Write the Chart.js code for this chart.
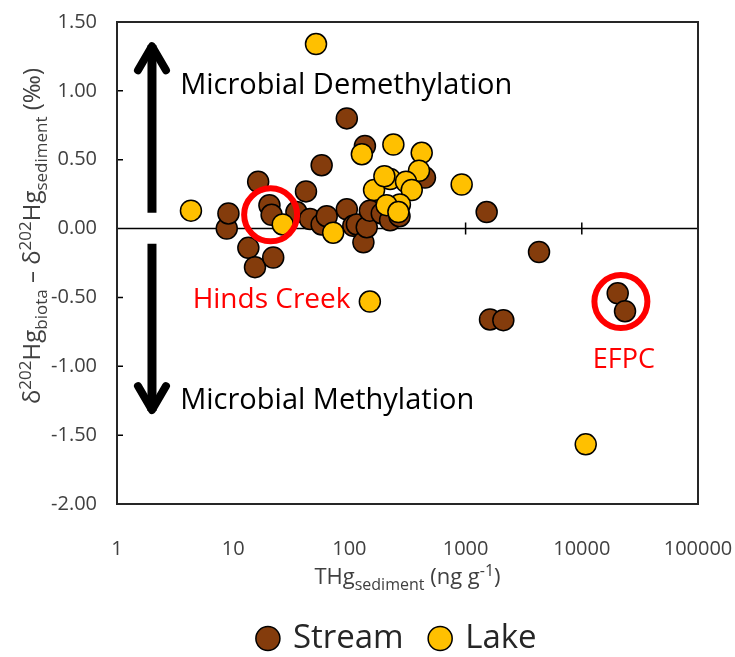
<!DOCTYPE html>
<html>
<head>
<meta charset="utf-8">
<script src="https://cdn.jsdelivr.net/npm/chart.js@4.4.1/dist/chart.umd.min.js"></script>
<style>
  html, body { margin: 0; padding: 0; background: #ffffff; }
  canvas { display: block; }
</style>
</head>
<body>
<canvas id="chart" width="735" height="657"></canvas>
<script>
// Sediment total Hg (ng/g) and biota–sediment δ202Hg offset (‰)
const streamTHg   = [8.8, 9.1, 13.5, 15.4, 16.4, 20.5, 21.4, 22.1, 35, 42.3, 45.8, 57.7, 57.7, 63.8, 95, 95, 108, 116, 132, 136, 141, 150, 190, 224, 270, 447, 1518, 4284, 1622, 2112, 20370, 23550];
const streamDelta = [0.00, 0.11, -0.14, -0.28, 0.34, 0.17, 0.10, -0.21, 0.12, 0.27, 0.07, 0.46, 0.03, 0.09, 0.80, 0.14, 0.02, 0.03, -0.10, 0.60, 0.01, 0.13, 0.11, 0.06, 0.09, 0.37, 0.12, -0.17, -0.66, -0.665, -0.47, -0.60];

const lakeTHg   = [4.33, 51.6, 26.7, 72.5, 128, 239, 419, 397, 224, 307, 163, 200, 344, 272, 209, 264, 925, 150, 10810];
const lakeDelta = [0.13, 1.34, 0.03, -0.03, 0.54, 0.61, 0.55, 0.42, 0.36, 0.34, 0.28, 0.38, 0.28, 0.175, 0.17, 0.12, 0.32, -0.53, -1.567];

const xDecades = [1, 10, 100, 1000, 10000, 100000];
const yTicks = [-2, -1.5, -1, -0.5, 0, 0.5, 1, 1.5];

const FONT = "'Open Sans', 'Noto Sans', sans-serif";
const STREAM_COLOR = '#843C0C';
const LAKE_COLOR = '#FFC000';
const TEXT_GRAY = '#404040';

// Draws a run of text pieces with sub/superscripts
function richText(ctx, pieces, size, x, y, align) {
  const small = Math.round(size * 0.72);
  const fontFor = k => (k === 'n' ? size : small) + 'px ' + FONT;
  let total = 0;
  pieces.forEach(p => { ctx.font = fontFor(p[1]); total += ctx.measureText(p[0]).width; });
  let cx = align === 'center' ? x - total / 2 : x;
  ctx.textAlign = 'left';
  ctx.textBaseline = 'alphabetic';
  pieces.forEach(p => {
    ctx.font = fontFor(p[1]);
    let dy = 0;
    if (p[1] === 'sub') dy = size * 0.28;
    if (p[1] === 'sup') dy = -size * 0.38;
    ctx.fillText(p[0], cx, y + dy);
    cx += ctx.measureText(p[0]).width;
  });
  return total;
}

const yTitle = [['δ', 'n'], ['202', 'sup'], ['Hg', 'n'], ['biota', 'sub'], [' – δ', 'n'], ['202', 'sup'], ['Hg', 'n'], ['sediment', 'sub'], [' (‰)', 'n']];
const xTitle = [['THg', 'n'], ['sediment', 'sub'], [' (ng g', 'n'], ['-1', 'sup'], [')', 'n']];

// Frame, zero line and inward tick marks (under the markers)
const framePlugin = {
  id: 'frame',
  afterLayout(chart) {
    // centre the legend row under the plot frame rather than the whole canvas
    const lg = chart.legend;
    if (lg) { lg.left += 98; }
  },
  beforeDatasetsDraw(chart) {
    const { ctx, chartArea: a, scales: { x, y } } = chart;
    ctx.save();
    const y0 = y.getPixelForValue(0);
    ctx.strokeStyle = '#000000';
    ctx.lineWidth = 1.5;
    ctx.beginPath();
    ctx.moveTo(a.left, y0); ctx.lineTo(a.right, y0);
    xDecades.forEach(v => {
      const px = x.getPixelForValue(v);
      ctx.moveTo(px, y0 - 6); ctx.lineTo(px, y0 + 6);
    });
    yTicks.forEach(v => {
      if (v === 0) return;
      const py = y.getPixelForValue(v);
      ctx.moveTo(a.left, py); ctx.lineTo(a.left + 6, py);
    });
    ctx.stroke();
    ctx.strokeStyle = '#262626';
    ctx.lineWidth = 2;
    ctx.strokeRect(a.left, a.top, a.right - a.left, a.bottom - a.top);
    ctx.restore();
  }
};

function arrow(ctx, x, yFrom, yTip) {
  const dir = yTip < yFrom ? 1 : -1;
  ctx.beginPath();
  ctx.lineWidth = 9;
  ctx.lineCap = 'butt';
  ctx.moveTo(x, yFrom); ctx.lineTo(x, yTip + dir * 2);
  ctx.stroke();
  ctx.beginPath();
  ctx.lineWidth = 8;
  ctx.lineCap = 'round';
  ctx.lineJoin = 'round';
  ctx.moveTo(x - 14, yTip + dir * 27);
  ctx.lineTo(x, yTip + dir * 3);
  ctx.lineTo(x + 14, yTip + dir * 27);
  ctx.stroke();
}

// Arrows, process labels, site rings and axis titles
const notesPlugin = {
  id: 'notes',
  afterDatasetsDraw(chart) {
    const { ctx, chartArea: a, scales: { x, y } } = chart;
    ctx.save();
    ctx.strokeStyle = '#000000';
    const ax = x.getPixelForValue(2);
    arrow(ctx, ax, y.getPixelForValue(0.115), y.getPixelForValue(1.346));
    arrow(ctx, ax, y.getPixelForValue(-0.11), y.getPixelForValue(-1.34));

    ctx.fillStyle = '#000000';
    ctx.font = '29px ' + FONT;
    ctx.textAlign = 'left';
    ctx.textBaseline = 'middle';
    ctx.fillText('Microbial Demethylation', x.getPixelForValue(3.5), y.getPixelForValue(1.04));
    ctx.fillText('Microbial Methylation', x.getPixelForValue(3.5), y.getPixelForValue(-1.25));

    ctx.strokeStyle = '#FF0000';
    ctx.lineWidth = 6;
    [[21, 0.10], [21700, -0.53]].forEach(([vx, vy]) => {
      ctx.beginPath();
      ctx.arc(x.getPixelForValue(vx), y.getPixelForValue(vy), 26.5, 0, Math.PI * 2);
      ctx.stroke();
    });
    ctx.fillStyle = '#FF0000';
    ctx.font = '28px ' + FONT;
    ctx.textAlign = 'center';
    ctx.fillText('Hinds Creek', x.getPixelForValue(21.4), y.getPixelForValue(-0.52));
    ctx.font = '27px ' + FONT;
    ctx.fillText('EFPC', x.getPixelForValue(23000), y.getPixelForValue(-0.96));

    ctx.fillStyle = TEXT_GRAY;
    richText(ctx, xTitle, 22, (a.left + a.right) / 2, 584, 'center');
    ctx.translate(32, 236);
    ctx.rotate(-Math.PI / 2);
    richText(ctx, yTitle, 24, 0, 8, 'center');
    ctx.restore();
  }
};

new Chart(document.getElementById('chart'), {
  type: 'scatter',
  data: {
    datasets: [
      {
        label: 'Lake',
        data: lakeTHg.map((v, i) => ({ x: v, y: lakeDelta[i] })),
        backgroundColor: LAKE_COLOR,
        borderColor: '#000000',
        borderWidth: 1.5,
        pointRadius: 10.5,
        pointHoverRadius: 10.5
      },
      {
        label: 'Stream',
        data: streamTHg.map((v, i) => ({ x: v, y: streamDelta[i] })),
        backgroundColor: STREAM_COLOR,
        borderColor: '#000000',
        borderWidth: 1.5,
        pointRadius: 10.5,
        pointHoverRadius: 10.5
      }
    ]
  },
  options: {
    responsive: false,
    animation: false,
    devicePixelRatio: 1,
    layout: { autoPadding: false, padding: { top: 22, right: 37, left: 0, bottom: -8 } },
    scales: {
      x: {
        type: 'logarithmic',
        min: 1,
        max: 100000,
        grid: { display: false, drawTicks: false },
        border: { display: false },
        afterBuildTicks: scale => { scale.ticks = xDecades.map(v => ({ value: v })); },
        afterFit: scale => { scale.height = 90; scale.paddingLeft = 0; scale.paddingRight = 0; },
        ticks: {
          autoSkip: false,
          maxRotation: 0,
          padding: 33,
          color: TEXT_GRAY,
          font: { family: FONT, size: 20 },
          callback: v => String(v)
        }
      },
      y: {
        min: -2,
        max: 1.5,
        grid: { display: false, drawTicks: false },
        border: { display: false },
        afterBuildTicks: scale => { scale.ticks = yTicks.map(v => ({ value: v })); },
        afterFit: scale => { scale.width = 117; scale.paddingTop = 0; scale.paddingBottom = 0; },
        ticks: {
          padding: 20,
          color: TEXT_GRAY,
          font: { family: FONT, size: 20 },
          callback: v => Number(v).toFixed(2)
        }
      }
    },
    plugins: {
      tooltip: { enabled: false },
      legend: {
        position: 'bottom',
        reverse: true,
        labels: {
          usePointStyle: true,
          pointStyle: 'circle',
          boxWidth: 17,
          boxHeight: 17,
          padding: 28,
          color: '#262626',
          font: { family: FONT, size: 33 }
        }
      }
    }
  },
  plugins: [framePlugin, notesPlugin]
});
</script>
</body>
</html>
